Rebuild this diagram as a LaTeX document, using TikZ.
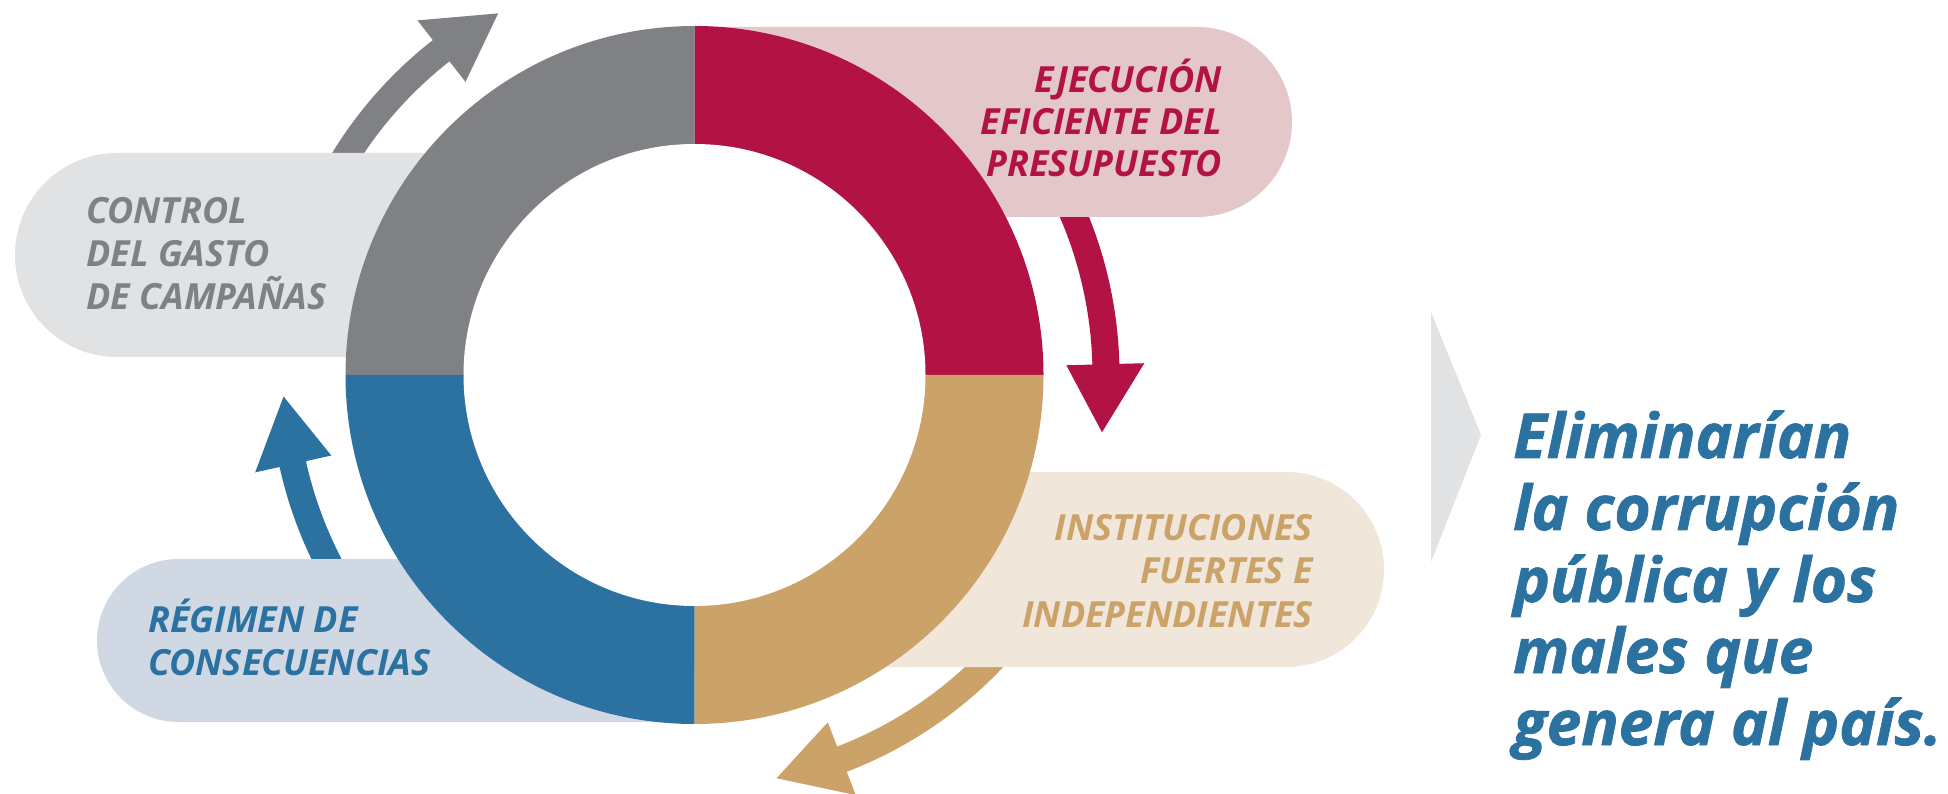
\documentclass[tikz,border=0pt]{standalone}
\usepackage{fontspec}
\setmainfont{Open Sans}
\newfontfamily\heavyfont{Open Sans}[BoldItalicFeatures={FakeBold=1.2}]
\definecolor{cgray}{HTML}{808184}
\definecolor{pgray}{HTML}{E1E2E4}
\definecolor{cred}{HTML}{B31245}
\definecolor{pred}{HTML}{E4C8C9}
\definecolor{ctan}{HTML}{CBA268}
\definecolor{ptan}{HTML}{F0E6DA}
\definecolor{cblue}{HTML}{2C72A0}
\definecolor{pblue}{HTML}{D0D8E4}
\tikzset{
  lbl/.style={inner sep=0pt, font=\fontsize{36}{42}\selectfont\bfseries\itshape},
  big/.style={inner sep=0pt, text=cblue, anchor=base west, font=\heavyfont\fontsize{62}{72}\selectfont\bfseries\itshape},
}
\begin{document}
\begin{tikzpicture}[x=1pt,y=1pt]
\useasboundingbox (0,0) rectangle (1948,793);
% curved arrows around the ring
\begin{scope}[shift={(694.5,418)}]
  \fill[cgray] (155:425) arc[start angle=155,end angle=128,radius=425] -- (128:450) -- (118.5:411.5) -- (128:372) -- (128:398) arc[start angle=128,end angle=155,radius=398] -- cycle;
  \fill[cred] (25:425) arc[start angle=25,end angle=1.5,radius=425] -- (1.5:450) -- (-8:411.5) -- (1.5:372) -- (1.5:398) arc[start angle=1.5,end angle=25,radius=398] -- cycle;
  \fill[ctan] (-40:425) arc[start angle=-40,end angle=-69,radius=425] -- (-69:450) -- (-78.5:411.5) -- (-69:372) -- (-69:398) arc[start angle=-69,end angle=-40,radius=398] -- cycle;
  \fill[cblue] (215:425) arc[start angle=215,end angle=192.5,radius=425] -- (192.5:450) -- (183:411.5) -- (192.5:372) -- (192.5:398) arc[start angle=192.5,end angle=215,radius=398] -- cycle;
\end{scope}
% pills
\fill[pgray] (694,436) -- (117,436) arc[start angle=270,end angle=90,radius=102] -- (694,640) -- cycle;
\fill[pred] (694,576) -- (1197,576) arc[start angle=-90,end angle=90,radius=95] -- (694,766) -- cycle;
\fill[ptan] (694,126) -- (1286.5,126) arc[start angle=-90,end angle=90,radius=97.5] -- (694,321) -- cycle;
\fill[pblue] (694,71) -- (178.5,71) arc[start angle=270,end angle=90,radius=81.5] -- (694,234) -- cycle;
% ring
\begin{scope}[shift={(694.5,418)}]
  \fill[cred] (0,0) -- (0:349) arc[start angle=0,end angle=90,radius=349] -- cycle;
  \fill[cgray] (0,0) -- (90:349) arc[start angle=90,end angle=180,radius=349] -- cycle;
  \fill[cblue] (0,0) -- (180:349) arc[start angle=180,end angle=270,radius=349] -- cycle;
  \fill[ctan] (0,0) -- (270:349) arc[start angle=270,end angle=360,radius=349] -- cycle;
  \fill[white] (0,0) circle[radius=231];
\end{scope}
% labels
\node[lbl, text=cgray, anchor=base west] (g1) at (86,569) {CONTROL};
\node[lbl, text=cgray, anchor=base west] (g2) at (86,526) {DEL GASTO};
\node[lbl, text=cgray, anchor=base west] (g3) at (86,483) {DE CAMPAÑAS};
\node[lbl, text=cred, anchor=base east] (r1) at (1222,700) {EJECUCIÓN};
\node[lbl, text=cred, anchor=base east] (r2) at (1222,658) {EFICIENTE DEL};
\node[lbl, text=cred, anchor=base east] (r3) at (1222,616) {PRESUPUESTO};
\node[lbl, text=ctan, anchor=base east] (t1) at (1313,253) {INSTITUCIONES};
\node[lbl, text=ctan, anchor=base east] (t2) at (1313,210) {FUERTES E};
\node[lbl, text=ctan, anchor=base east] (t3) at (1313,166) {INDEPENDIENTES};
\node[lbl, text=cblue, anchor=base west] (b1) at (148,161) {RÉGIMEN DE};
\node[lbl, text=cblue, anchor=base west] (b2) at (148,118) {CONSECUENCIAS};
% chevron
\fill[pgray] (1431,481) -- (1481,358) -- (1431,231) -- cycle;
% conclusion
\node[big] (c1) at (1513,335) {Eliminarían};
\node[big] (c2) at (1513,263) {la corrupción};
\node[big] (c3) at (1513,191) {pública y los};
\node[big] (c4) at (1513,120) {males que};
\node[big] (c5) at (1513,48) {genera al país.};
\end{tikzpicture}
\end{document}
